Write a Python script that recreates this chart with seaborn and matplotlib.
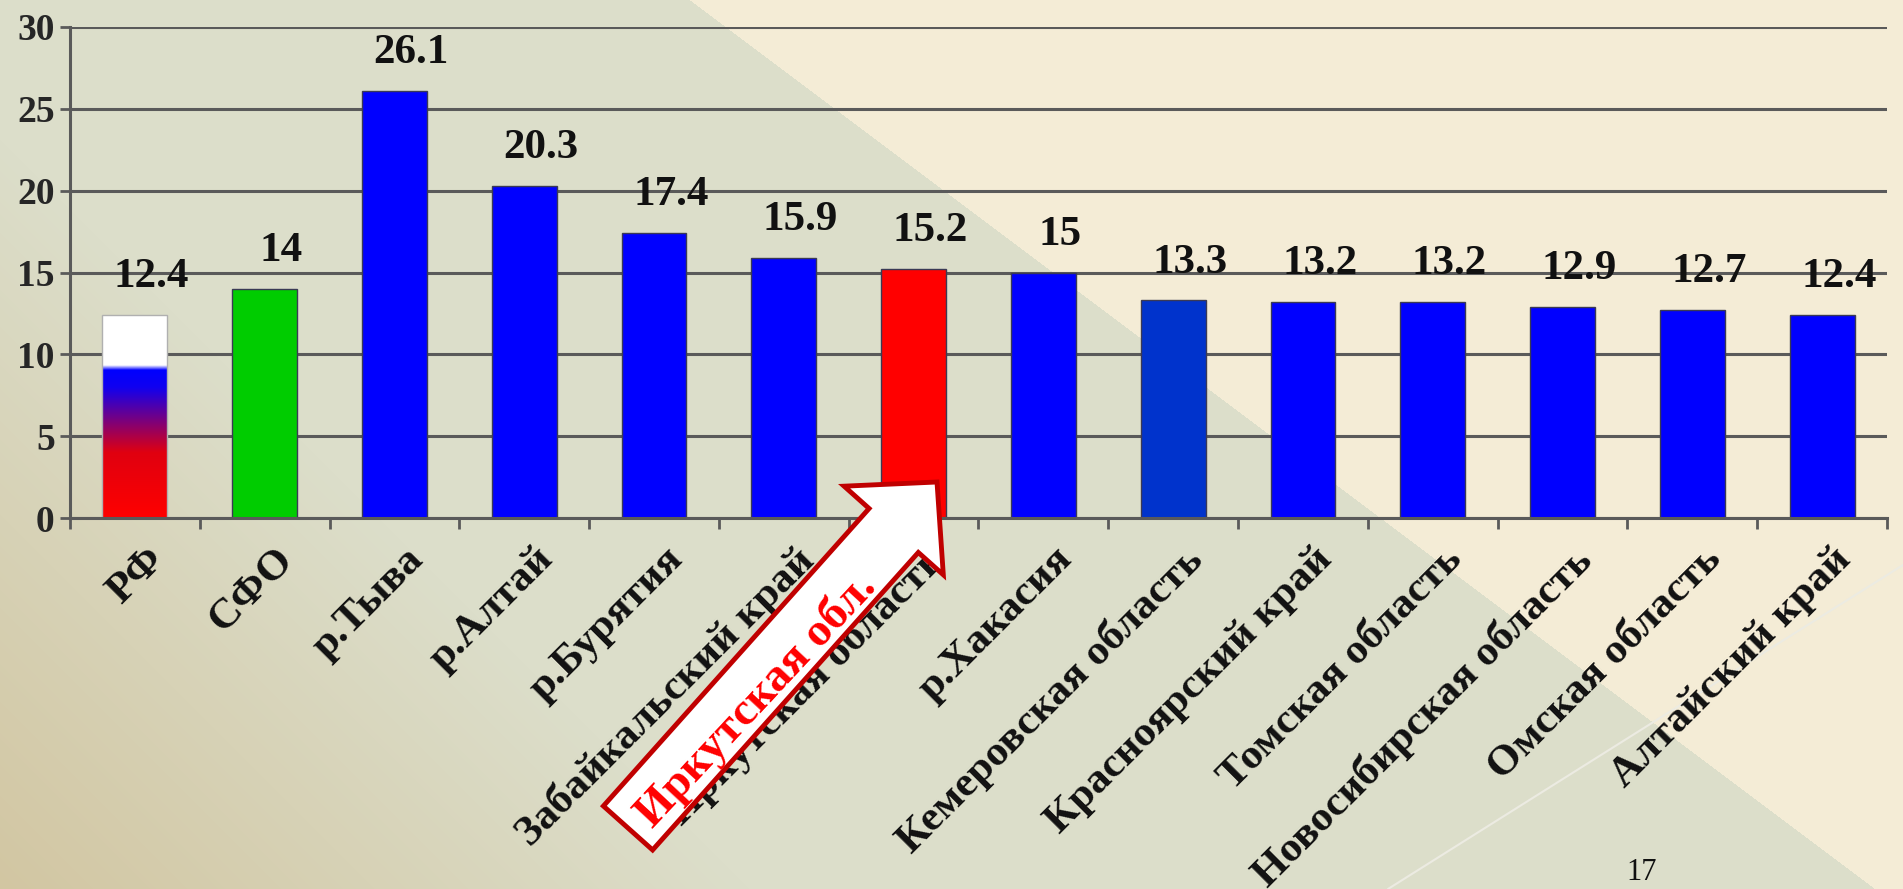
import numpy as np
import pandas as pd
import matplotlib
matplotlib.use("Agg")
import matplotlib.pyplot as plt
import seaborn as sns
import matplotlib.transforms as mtransforms
from matplotlib.patches import FancyArrow
from matplotlib.colors import LinearSegmentedColormap

# ---------------- data ----------------
categories = ["РФ", "СФО", "р.Тыва", "р.Алтай", "р.Бурятия", "Забайкальский край",
              "Иркутская область", "р.Хакасия", "Кемеровская область", "Красноярский край",
              "Томская область", "Новосибирская область", "Омская область", "Алтайский край"]
values = [12.4, 14, 26.1, 20.3, 17.4, 15.9, 15.2, 15, 13.3, 13.2, 13.2, 12.9, 12.7, 12.4]
value_labels = ["12.4", "14", "26.1", "20.3", "17.4", "15.9", "15.2", "15",
                "13.3", "13.2", "13.2", "12.9", "12.7", "12.4"]
bar_colors = ["#FF0000", "#00CC00", "#0000FF", "#0000FF", "#0000FF", "#0000FF",
              "#FF0000", "#0000FF", "#0033CC", "#0000FF", "#0000FF", "#0000FF",
              "#0000FF", "#0000FF"]
y_ticks = [0, 5, 10, 15, 20, 25, 30]
highlight_text = "Иркутская обл."
page_number = "17"

# ---------------- style ----------------
sns.set_theme(style="white")
plt.rcParams['font.family'] = ['Liberation Serif', 'DejaVu Serif']

W, H = 1903, 889
fig = plt.figure(figsize=(W / 100, H / 100), dpi=100)

# background slide gradient
bg = fig.add_axes([0, 0, 1, 1], zorder=-10)
yy, xx = np.mgrid[0:H, 0:W].astype(float)
tan = np.array([0xD2, 0xC6, 0xA2]) / 255
grey = np.array([0xDC, 0xDE, 0xCA]) / 255
cream = np.array([0xF4, 0xEC, 0xD6]) / 255
xb = 690 + 1.3333 * yy
t = np.clip(1 - (xx + (H - yy)) / 750.0, 0, 1)[..., None]
left_col = grey * (1 - t) + tan * t
img = np.where((xx < xb)[..., None], left_col, cream)
bg.imshow(img, extent=(0, W, H, 0), aspect='auto', interpolation='bilinear')
bg.plot([1388, 1903], [889, 565], color='#ECEBE2', lw=1.5)
bg.set_xlim(0, W)
bg.set_ylim(H, 0)
bg.axis('off')

# main chart axes
ax = fig.add_axes([70 / W, (H - 518) / H, (1887 - 70) / W, (518 - 27) / H])
ax.patch.set_alpha(0)
df = pd.DataFrame({"region": categories, "value": values})
sns.barplot(data=df, x="region", y="value", hue="region", palette=bar_colors,
            width=0.5, legend=False, ax=ax, saturation=1,
            edgecolor='#3a3a55', linewidth=1.0)

# flag-like gradient for the first bar (РФ)
p0 = ax.patches[0]
h0 = p0.get_height()
cmap = LinearSegmentedColormap.from_list(
    "rf", [(0.0, "#FF0000"), (4.0 / h0, "#E00010"), (8.0 / h0, "#1000F0"),
           (9.05 / h0, "#0000FF"), (9.35 / h0, "#FFFFFF"), (1.0, "#FFFFFF")])
grad = np.linspace(0, 1, 256).reshape(-1, 1)
im = ax.imshow(grad, extent=(p0.get_x(), p0.get_x() + p0.get_width(), 0, h0),
               origin='lower', cmap=cmap, aspect='auto', zorder=p0.get_zorder() + 0.1)
im.set_clip_path(p0)
p0.set_facecolor('none')
p0.set_edgecolor('#B0B0B0')
p0.set_zorder(p0.get_zorder() + 0.2)

ax.set_xlim(-0.5, len(categories) - 0.5)
ax.set_ylim(0, 30)
ax.set_yticks(y_ticks)
ax.set_xlabel("")
ax.set_ylabel("")
ax.yaxis.grid(True, color='#5a5a5a', lw=2.2)
ax.set_axisbelow(True)
for s in ["top", "right"]:
    ax.spines[s].set_visible(False)
for s in ["left", "bottom"]:
    ax.spines[s].set_color('#5a5a5a')
    ax.spines[s].set_linewidth(2.2)

ax.tick_params(axis='y', left=True, length=7, width=2, color='#5a5a5a',
               labelsize=27, pad=4)
for lbl in ax.get_yticklabels():
    lbl.set_fontweight('bold')

ax.set_xticks(np.arange(len(categories) + 1) - 0.5, minor=True)
ax.tick_params(axis='x', which='minor', bottom=True, length=8, width=2,
               color='#5a5a5a', direction='out')
ax.tick_params(axis='x', which='major', bottom=False, length=0, pad=16)
ax.set_xticks(range(len(categories)))
ax.set_xticklabels(categories, rotation=45, ha='right', rotation_mode='anchor',
                   fontsize=31, fontweight='bold', color='#111111')
offset = mtransforms.ScaledTranslation(7 / 72, 0, fig.dpi_scale_trans)
for lbl in ax.get_xticklabels():
    lbl.set_transform(lbl.get_transform() + offset)

# value labels
for p, lab in zip(ax.patches, value_labels):
    ax.annotate(lab, xy=(p.get_x() + p.get_width() / 2, p.get_height()),
                xytext=(12, 20), textcoords='offset points', ha='center',
                va='baseline', fontsize=31, fontweight='bold', color='#111111')

# overlay: arrow with text
ov = fig.add_axes([0, 0, 1, 1], zorder=20)
ov.patch.set_alpha(0)
ov.set_xlim(0, W)
ov.set_ylim(H, 0)
ov.axis('off')
arrow = FancyArrow(628, 828, 309, -346, width=66, head_width=133, head_length=65,
                   length_includes_head=True, fc='white', ec='#C00000', lw=3.5,
                   joinstyle='miter')
ov.add_patch(arrow)
ov.text(756, 700, highlight_text, rotation=47, rotation_mode='anchor',
        ha='center', va='center', color='#FF0000', fontsize=34, fontweight='bold')

fig.text(1642 / W, 1 - 872 / H, page_number, fontsize=22, ha='center', va='center',
         color='#111111')

fig.savefig("out.png", dpi=100)
